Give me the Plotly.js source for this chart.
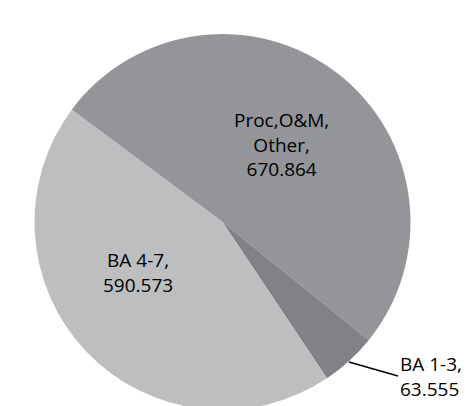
<!DOCTYPE html>
<html>
<head>
<meta charset="utf-8">
<script src="https://cdn.plot.ly/plotly-3.0.1.min.js"></script>
<style>
html, body { margin: 0; padding: 0; overflow: hidden; background: #fff; }
#chart { width: 465px; height: 416px; }
</style>
</head>
<body>
<div id="chart"></div>
<script>
// Data
const labels = ["Proc,O&M,<br>Other", "BA 1-3", "BA 4-7"];
const values = [670.864, 63.555, 590.573];
const colors = ["#939598", "#808285", "#bcbec0"];
const titleText = "($ in Millions)";

const W = 465, H = 416;
const px = (x) => x / W;
const py = (y) => 1 - y / H;

const trace = {
  type: "pie",
  labels: labels,
  values: values,
  sort: false,
  direction: "clockwise",
  rotation: -53.3,
  marker: { colors: colors, line: { color: "#ffffff", width: 0 } },
  textinfo: "none",
  hoverinfo: "label+value",
  domain: { x: [px(34.5), px(410.5)], y: [py(410), py(34)] },
  showlegend: false
};

const labelFont = { family: "Open Sans, sans-serif", size: 19, color: "#000000" };
const annotations = [
  {
    text: titleText, xref: "paper", yref: "paper",
    x: px(240), y: py(3), xanchor: "center", yanchor: "bottom",
    showarrow: false,
    font: { family: "Open Sans, sans-serif", size: 20, color: "#595959", weight: "bold" }
  },
  {
    text: labels[0] + ",<br>" + values[0].toFixed(3),
    xref: "paper", yref: "paper", x: px(281), y: py(144),
    xanchor: "center", yanchor: "middle", align: "center",
    showarrow: false, font: labelFont
  },
  {
    text: labels[2] + ",<br>" + values[2].toFixed(3),
    xref: "paper", yref: "paper", x: px(138), y: py(272),
    xanchor: "center", yanchor: "middle", align: "center",
    showarrow: false, font: labelFont
  },
  {
    text: labels[1] + ",<br>" + values[1].toFixed(3),
    xref: "paper", yref: "paper", x: px(349), y: py(362),
    ax: 49, ay: 14, axref: "pixel", ayref: "pixel",
    xanchor: "left", yanchor: "middle", align: "left",
    showarrow: true, arrowhead: 0, arrowwidth: 1.5, arrowcolor: "#000000",
    standoff: 0, font: labelFont
  }
];

const layout = {
  width: W, height: H,
  margin: { l: 0, r: 0, t: 0, b: 0 },
  paper_bgcolor: "#ffffff",
  showlegend: false,
  annotations: annotations
};

Plotly.newPlot("chart", [trace], layout, { staticPlot: true, displayModeBar: false });
</script>
</body>
</html>
